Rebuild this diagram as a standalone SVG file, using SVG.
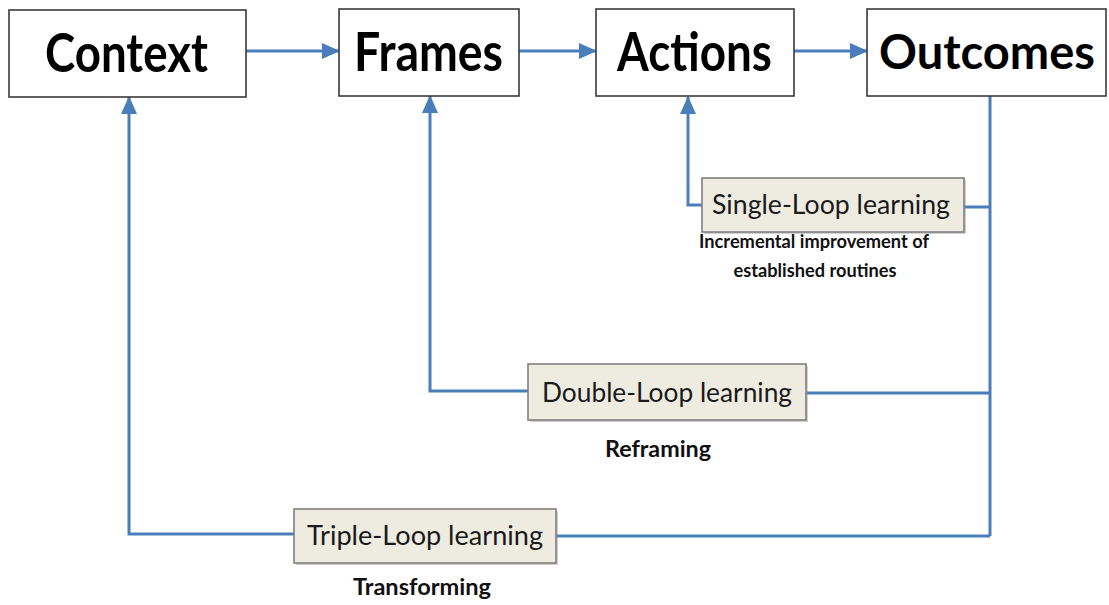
<svg xmlns="http://www.w3.org/2000/svg" width="1109" height="605" viewBox="0 0 1109 605">
  <defs>
    <marker id="arrow" markerUnits="userSpaceOnUse" markerWidth="18" markerHeight="16" viewBox="0 0 18 16" refX="17" refY="8" orient="auto">
      <path d="M0,0 L18,8 L0,16 Z" fill="#4a7ebb"/>
    </marker>
  </defs>
  <style>
    .main { fill: #ffffff; stroke: #3a3a3a; stroke-width: 1.6; }
    .learn { fill: #eeece1; stroke: #7f7f7f; stroke-width: 1.6; }
    .shadow { fill: #9a9a9a; opacity: 0.45; }
    .big { font-family: Lato, "Open Sans", sans-serif; font-weight: bold; font-size: 54px; fill: #000; }
    .lbl { font-family: Lato, "Open Sans", sans-serif; font-size: 27px; fill: #1a1a1a; }
    .note { font-family: Lato, "Open Sans", sans-serif; font-weight: bold; font-size: 18px; fill: #111; }
    .note2 { font-family: Lato, "Open Sans", sans-serif; font-weight: bold; font-size: 22px; fill: #111; }
    .wire { fill: none; stroke: #4a7ebb; stroke-width: 3; stroke-linejoin: miter; }
  </style>
  <rect x="0" y="0" width="1109" height="605" fill="#ffffff"/>

  <g id="connectors">
    <line class="wire" x1="246" y1="51" x2="339" y2="51" marker-end="url(#arrow)"/>
    <line class="wire" x1="519" y1="51" x2="596" y2="51" marker-end="url(#arrow)"/>
    <line class="wire" x1="794" y1="51" x2="867" y2="51" marker-end="url(#arrow)"/>
    <line class="wire" x1="990" y1="96" x2="990" y2="536"/>
    <line class="wire" x1="990" y1="207" x2="964" y2="207"/>
    <polyline class="wire" points="702,205 688,205 688,97" marker-end="url(#arrow)"/>
    <line class="wire" x1="990" y1="393" x2="806" y2="393"/>
    <polyline class="wire" points="528,391 430,391 430,96" marker-end="url(#arrow)"/>
    <line class="wire" x1="990" y1="536" x2="556" y2="536"/>
    <polyline class="wire" points="294,534 129,534 129,97" marker-end="url(#arrow)"/>
  </g>

  <g id="context">
    <rect class="main" x="9" y="10" width="237" height="87"/>
    <text class="big" x="126.5" y="72" text-anchor="middle" textLength="163" lengthAdjust="spacingAndGlyphs">Context</text>
  </g>
  <g id="frames">
    <rect class="main" x="339" y="9" width="180" height="87"/>
    <text class="big" x="428.5" y="71" text-anchor="middle" textLength="149" lengthAdjust="spacingAndGlyphs">Frames</text>
  </g>
  <g id="actions">
    <rect class="main" x="596" y="9" width="198" height="87"/>
    <text class="big" x="694.5" y="71" text-anchor="middle" textLength="155" lengthAdjust="spacingAndGlyphs">Actions</text>
  </g>
  <g id="outcomes">
    <rect class="main" x="867" y="9" width="239" height="87"/>
    <text class="big" x="987" y="69" text-anchor="middle" style="font-size:47px">Outcomes</text>
  </g>

  <g id="single-loop">
    <rect class="shadow" x="704" y="180" width="262" height="54"/>
    <rect class="learn" x="702" y="178" width="262" height="54"/>
    <text class="lbl" x="831" y="214" text-anchor="middle" textLength="238" lengthAdjust="spacingAndGlyphs">Single-Loop learning</text>
    <text class="note" x="814" y="248" text-anchor="middle" textLength="230" lengthAdjust="spacingAndGlyphs">Incremental improvement of</text>
    <text class="note" x="815" y="277" text-anchor="middle" textLength="163" lengthAdjust="spacingAndGlyphs">established routines</text>
  </g>

  <g id="double-loop">
    <rect class="shadow" x="530" y="366" width="278" height="56"/>
    <rect class="learn" x="528" y="364" width="278" height="56"/>
    <text class="lbl" x="667" y="402" text-anchor="middle" textLength="250" lengthAdjust="spacingAndGlyphs">Double-Loop learning</text>
    <text class="note2" x="658" y="457" text-anchor="middle" textLength="106" lengthAdjust="spacingAndGlyphs">Reframing</text>
  </g>

  <g id="triple-loop">
    <rect class="shadow" x="296" y="511" width="262" height="54"/>
    <rect class="learn" x="294" y="509" width="262" height="54"/>
    <text class="lbl" x="425" y="545" text-anchor="middle" textLength="236" lengthAdjust="spacingAndGlyphs">Triple-Loop learning</text>
    <text class="note2" x="422" y="595" text-anchor="middle" textLength="138" lengthAdjust="spacingAndGlyphs">Transforming</text>
  </g>
</svg>
